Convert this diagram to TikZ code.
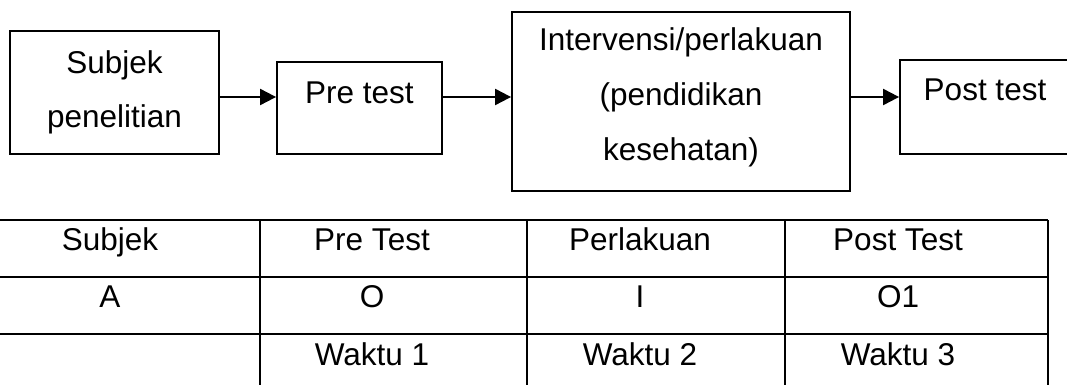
\documentclass[tikz,border=0pt]{standalone}
\usepackage{fontspec}
\setmainfont{Liberation Sans}
\usetikzlibrary{arrows.meta}

\begin{document}
\begin{tikzpicture}[x=1pt, y=-1pt,
        box/.style={draw, line width=1.8pt, inner sep=0pt},
        lbl/.style={font=\fontsize{31.5}{54.5}\selectfont, align=center, inner sep=0pt, anchor=base},
        flow/.style={line width=2pt, -{Triangle[length=16pt,width=16pt]}},
        tbl/.style={line width=2.6pt}]
    \clip (0,0) rectangle (1067,385);
    % alur penelitian
    \node[box, minimum width=209pt, minimum height=123pt] (subjek) at (114.5,92.5) {};
    \node[box, minimum width=165pt, minimum height=92pt] (pre) at (359.5,108) {};
    \node[box, minimum width=338pt, minimum height=179pt] (interv) at (681,101.5) {};
    \node[box, minimum width=170pt, minimum height=94pt] (post) at (985,107) {};
    % multi-line labels sit on their last baseline
    \node[lbl] (subjekT) at (114.5,128) {Subjek\\penelitian};
    \node[lbl] (preT) at (359.5,103) {Pre test};
    \node[lbl] (intervT) at (681,160) {Intervensi/perlakuan\\(pendidikan\\kesehatan)};
    \node[lbl] (postT) at (985,101) {Post test};
    \coordinate (flowline) at (0,97);
    \draw[flow] (subjek.east |- flowline) -- (pre.west |- flowline);
    \draw[flow] (pre.east |- flowline) -- (interv.west |- flowline);
    \draw[flow] (interv.east |- flowline) -- (post.west |- flowline);
    % tabel desain
    \foreach \x in {-4,260,527,785,1048}
        \draw[tbl] (\x,220) -- (\x,395);
    \foreach \y in {220,277,334,391}
        \draw[tbl] (-4,\y) -- (1048,\y);
    \foreach \lab/\x/\y [count=\i] in {Subjek/110/250, Pre Test/372/250, Perlakuan/640/250, Post Test/898/250,
            A/110/307, O/372/307, I/640/307, O1/898/307,
            Waktu 1/372/365, Waktu 2/640/365, Waktu 3/898/365}
        \node[lbl] (cell\i) at (\x,\y) {\lab};
\end{tikzpicture}
\end{document}
